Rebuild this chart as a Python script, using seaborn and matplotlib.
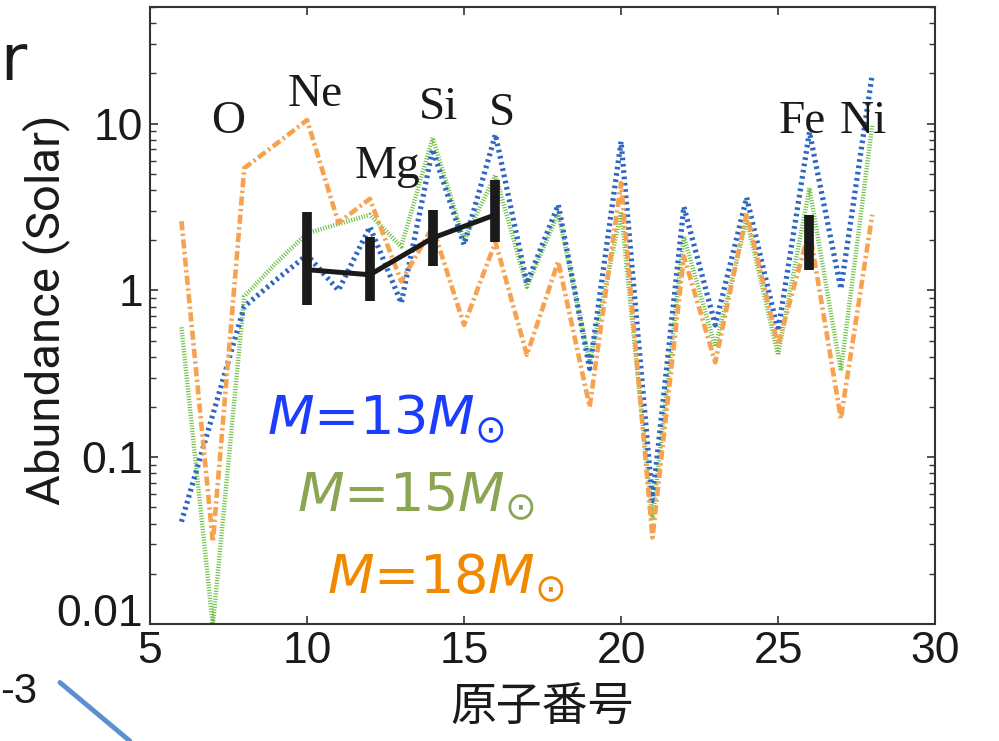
import numpy as np
import pandas as pd
import matplotlib.pyplot as plt
import matplotlib.ticker as mticker
import matplotlib.transforms as mtransforms
from matplotlib.lines import Line2D
import seaborn as sns

sns.set_theme(style='ticks')
plt.rcParams['font.family'] = ['Liberation Sans', 'DejaVu Sans']
plt.rcParams['mathtext.fontset'] = 'dejavusans'

#%% DATA
atomic_number = list(range(6, 29))
abund_13 = [0.041, 0.18, 0.8, 1.15, 1.63, 1.0, 2.4, 0.84, 7.0, 1.88, 8.6, 1.1,
            3.26, 0.34, 7.8, 0.055, 3.17, 0.62, 3.6, 0.57, 8.9, 1.02, 19.8]
abund_15 = [0.6, 0.0098, 0.92, 1.45, 2.2, 2.5, 2.84, 1.83, 8.2, 2.0, 4.9, 1.05,
            2.9, 0.37, 2.95, 0.042, 2.1, 0.46, 2.65, 0.41, 4.1, 0.33, 9.8]
abund_18 = [2.6, 0.031, 5.4, 7.5, 10.5, 2.54, 3.54, 1.13, 2.4, 0.62, 1.95, 0.41,
            1.49, 0.2, 4.4, 0.033, 1.6, 0.37, 2.9, 0.47, 2.3, 0.17, 2.84]

obs_z = [10, 12, 14, 16, 26]
obs_val = [1.33, 1.24, 2.06, 2.84, 1.9]
obs_lo = [0.82, 0.86, 1.39, 1.95, 1.33]
obs_hi = [2.95, 2.1, 3.04, 4.6, 2.84]

elements = ['O', 'Ne', 'Mg', 'Si', 'S', 'Fe', 'Ni']
elem_x = [7.48, 10.25, 12.55, 14.2, 16.2, 25.76, 27.7]
elem_y = [10.2, 14.8, 5.5, 12.5, 11.4, 10.2, 10.2]

models = ['13', '15', '18']
line_colors = ['#2f66c2', '#6dbe45', '#f7a24f']
text_colors = ['#1a3dff', '#8ca553', '#f08800']

df = pd.DataFrame({'Z': atomic_number, '13': abund_13, '15': abund_15, '18': abund_18})

#%% PLOT
fig = plt.figure(figsize=(9.99, 7.41), dpi=100)
ax = fig.add_axes([0.1502, 0.158, 0.7858, 0.8326])

styles = {'13': dict(linewidth=3.8, linestyle=(0, (0.5, 0.7))),
          '15': dict(linewidth=3.2, linestyle=(0, (0.25, 0.35))),
          '18': dict(linewidth=3.3, linestyle=(0, (2.0, 0.75, 0.5, 0.75)))}
for m, c in zip(['15', '13', '18'], [line_colors[1], line_colors[0], line_colors[2]]):
    sns.lineplot(data=df, x='Z', y=m, ax=ax, color=c, **styles[m])

# observations
obs = pd.DataFrame({'Z': obs_z, 'v': obs_val})
sns.lineplot(data=obs.iloc[:4], x='Z', y='v', ax=ax, color='#1a1a1a', linewidth=3.6)
yerr = [np.array(obs_val) - np.array(obs_lo), np.array(obs_hi) - np.array(obs_val)]
ax.errorbar(obs_z, obs_val, yerr=yerr, fmt='none', ecolor='#1a1a1a', elinewidth=7, capsize=0)

ax.set_yscale('log')
ax.set_xlim(5, 30)
ax.set_ylim(0.01, 50)
ax.xaxis.set_major_locator(mticker.MultipleLocator(5))
ax.yaxis.set_major_locator(mticker.FixedLocator([0.01, 0.1, 1, 10]))
ax.yaxis.set_major_formatter(mticker.FixedFormatter(['0.01', '0.1', '1', '10']))
ax.yaxis.set_minor_locator(mticker.LogLocator(base=10, subs=np.arange(2, 10)))
ax.yaxis.set_minor_formatter(mticker.NullFormatter())

ax.tick_params(which='both', direction='in', top=True, right=True, colors='#333333',
               labelcolor='#1a1a1a', labelsize=32, pad=5)
ax.tick_params(which='major', length=6, width=1.2)
ax.tick_params(which='minor', length=4, width=1.0)
for s in ax.spines.values():
    s.set_color('#333333')
    s.set_linewidth(1.5)

ax.set_xlabel('原子番号', fontsize=33, family=['Noto Sans CJK JP', 'DejaVu Sans'],
              color='#1a1a1a', labelpad=8)
ax.set_ylabel('Abundance (Solar)', fontsize=34, family=['Roboto', 'DejaVu Sans'],
              color='#1a1a1a')
ax.yaxis.set_label_coords(-0.102, 0.51)

# lift the lowest y label a little
lbl = ax.get_yticklabels()[0]
lbl.set_transform(lbl.get_transform() + mtransforms.ScaledTranslation(0, 10 / 72, fig.dpi_scale_trans))

for name, x, y in zip(elements, elem_x, elem_y):
    ax.text(x, y, name, ha='center', va='center', fontsize=34,
            family=['Liberation Serif', 'DejaVu Serif'], color='#1a1a1a')

legend_pos = [(0.149, 0.307), (0.187, 0.182), (0.225, 0.050)]
for m, c, (tx, ty) in zip(models, text_colors, legend_pos):
    ax.text(tx, ty, r'$\mathit{M}$=' + m + r'$\mathit{M}_{\odot}$', transform=ax.transAxes,
            ha='left', va='baseline', fontsize=39, color=c, family='DejaVu Sans')

# slide fragments around the chart
fig.text(0.0, 0.892, 'r', fontsize=46, color='#1a1a1a', family='DejaVu Sans',
         ha='left', va='baseline')
fig.text(0.0, 0.051, '-3', fontsize=30, color='#1a1a1a', family='Liberation Sans',
         ha='left', va='baseline')
fig.add_artist(Line2D([0.06, 0.13], [0.079, 0.0], transform=fig.transFigure,
                      color='#5b8fd0', lw=3.5))

fig.savefig('out.png', dpi=100)
